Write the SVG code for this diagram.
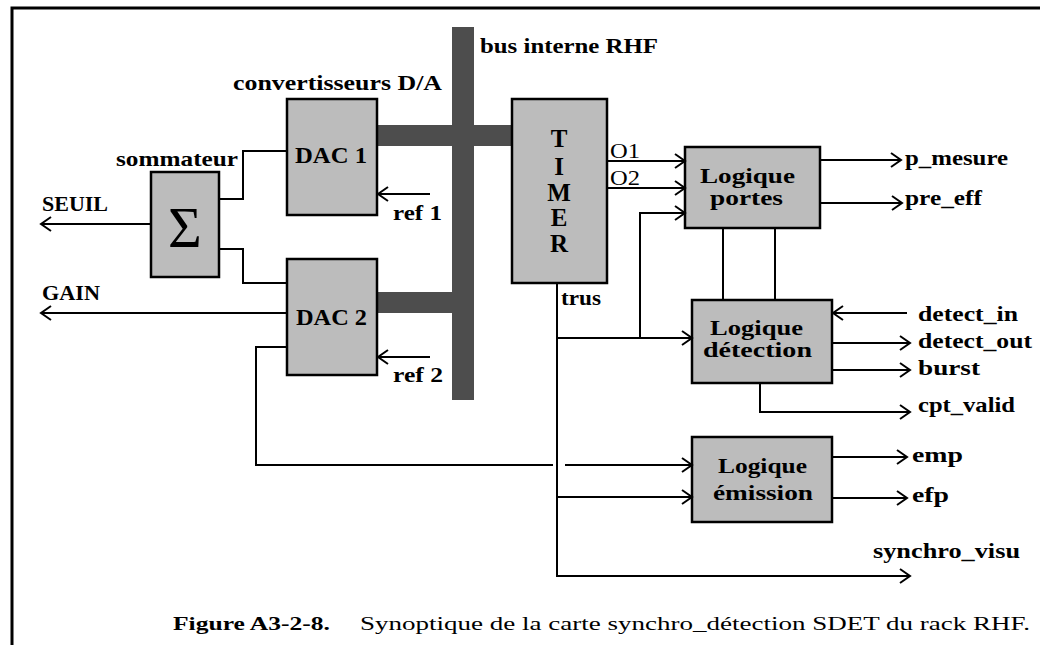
<svg xmlns="http://www.w3.org/2000/svg" width="1040" height="645" viewBox="0 0 1040 645">
<defs>
<marker id="arr" markerUnits="userSpaceOnUse" markerWidth="14" markerHeight="18" refX="11" refY="8" orient="auto">
<path d="M1,1 L11,8 L1,15" fill="none" stroke="#000" stroke-width="2"/>
</marker>
<style>
.box{fill:#bcbcbc;stroke:#000;stroke-width:2.5}
.bus{fill:#4d4d4d}
.ln{fill:none;stroke:#000;stroke-width:2}
.ar{fill:none;stroke:#000;stroke-width:2;marker-end:url(#arr)}
.t{font-family:"Liberation Serif","Times New Roman",serif;font-weight:bold;font-size:21px;fill:#000}
.c{text-anchor:middle}
.cap{font-family:"Liberation Serif","Times New Roman",serif;font-size:19px;fill:#000}
</style>
</defs>
<rect width="1040" height="645" fill="#fff"/>
<g id="frame" class="ln" style="stroke-width:3">
<path d="M12,645 V8 H1040"/>
</g>
<g id="bus">
<rect class="bus" x="452" y="27" width="22" height="373"/>
<rect class="bus" x="377" y="125" width="135" height="21"/>
<rect class="bus" x="377" y="292" width="76" height="21"/>
<text class="t" x="480" y="53" textLength="178" lengthAdjust="spacingAndGlyphs">bus interne RHF</text>
</g>
<g id="sommateur">
<rect class="box" x="151" y="172" width="68" height="105"/>
<text x="185" y="247" text-anchor="middle" style="font-family:'Liberation Serif',serif;font-size:58px">Σ</text>
<text class="t" x="116" y="166" textLength="122" lengthAdjust="spacingAndGlyphs">sommateur</text>
</g>
<g id="dac1">
<rect class="box" x="287" y="99" width="90" height="116"/>
<text class="t" x="295" y="163" textLength="72" lengthAdjust="spacingAndGlyphs" style="font-size:23px">DAC 1</text>
<text class="t" x="233" y="90" textLength="209" lengthAdjust="spacingAndGlyphs">convertisseurs D/A</text>
</g>
<g id="dac2">
<rect class="box" x="287" y="259" width="90" height="116"/>
<text class="t" x="296" y="325" textLength="71" lengthAdjust="spacingAndGlyphs" style="font-size:23px">DAC 2</text>
</g>
<g id="timer">
<rect class="box" x="512" y="99" width="95" height="184"/>
<g class="t c" style="font-size:25px">
<text x="559" y="147">T</text>
<text x="559" y="175">I</text>
<text x="559" y="201">M</text>
<text x="559" y="226">E</text>
<text x="559" y="252">R</text>
</g>
</g>
<g id="portes">
<rect class="box" x="685" y="147" width="135" height="81"/>
<text class="t" x="700" y="183" textLength="95" lengthAdjust="spacingAndGlyphs">Logique</text>
<text class="t" x="710" y="205" textLength="73" lengthAdjust="spacingAndGlyphs">portes</text>
</g>
<g id="detection">
<rect class="box" x="692" y="300" width="140" height="83"/>
<text class="t" x="710" y="335" textLength="93" lengthAdjust="spacingAndGlyphs">Logique</text>
<text class="t" x="703" y="357" textLength="109" lengthAdjust="spacingAndGlyphs">détection</text>
</g>
<g id="emission">
<rect class="box" x="692" y="437" width="140" height="85"/>
<text class="t" x="718" y="473" textLength="89" lengthAdjust="spacingAndGlyphs">Logique</text>
<text class="t" x="713" y="500" textLength="100" lengthAdjust="spacingAndGlyphs">émission</text>
</g>
<g id="connectors">
<path class="ar" d="M151,224 H41"/>
<path class="ar" d="M287,313 H41"/>
<path class="ln" d="M219,199 H243 V151 H287"/>
<path class="ln" d="M219,249 H243 V283 H287"/>
<path class="ar" d="M430,194 H378"/>
<path class="ar" d="M430,357 H378"/>
<path class="ln" d="M287,347 H256 V465 H553"/>
<path class="ar" d="M565,465 H692"/>
<path class="ar" d="M607,161 H685"/>
<path class="ar" d="M607,188 H685"/>
<path class="ar" d="M557,283 V576 H910"/>
<path class="ar" d="M557,338 H692"/>
<path class="ar" d="M640,338 V213 H685"/>
<path class="ln" d="M723,228 V300 M775,228 V300"/>
<path class="ar" d="M820,160 H901"/>
<path class="ar" d="M820,203 H902"/>
<path class="ar" d="M907,313 H833"/>
<path class="ar" d="M832,343 H910"/>
<path class="ar" d="M832,370 H910"/>
<path class="ar" d="M760,383 V412 H910"/>
<path class="ar" d="M557,497 H692"/>
<path class="ar" d="M832,457 H907"/>
<path class="ar" d="M832,498 H907"/>
</g>
<g id="labels">
<text class="t" x="42" y="211" textLength="66" lengthAdjust="spacingAndGlyphs">SEUIL</text>
<text class="t" x="42" y="300" textLength="58" lengthAdjust="spacingAndGlyphs">GAIN</text>
<text class="t" x="393" y="220" textLength="49" lengthAdjust="spacingAndGlyphs">ref 1</text>
<text class="t" x="393" y="382" textLength="50" lengthAdjust="spacingAndGlyphs">ref 2</text>
<text class="t" x="610" y="158" textLength="30" lengthAdjust="spacingAndGlyphs" style="font-weight:normal">O1</text>
<text class="t" x="610" y="185" textLength="30" lengthAdjust="spacingAndGlyphs" style="font-weight:normal">O2</text>
<text class="t" x="561" y="305" textLength="40" lengthAdjust="spacingAndGlyphs">trus</text>
<text class="t" x="905" y="165" textLength="103" lengthAdjust="spacingAndGlyphs">p_mesure</text>
<text class="t" x="905" y="205" textLength="77" lengthAdjust="spacingAndGlyphs">pre_eff</text>
<text class="t" x="918" y="321" textLength="100" lengthAdjust="spacingAndGlyphs">detect_in</text>
<text class="t" x="918" y="348" textLength="114" lengthAdjust="spacingAndGlyphs">detect_out</text>
<text class="t" x="918" y="375" textLength="62" lengthAdjust="spacingAndGlyphs">burst</text>
<text class="t" x="918" y="412" textLength="97" lengthAdjust="spacingAndGlyphs">cpt_valid</text>
<text class="t" x="912" y="462" textLength="51" lengthAdjust="spacingAndGlyphs">emp</text>
<text class="t" x="912" y="502" textLength="37" lengthAdjust="spacingAndGlyphs">efp</text>
<text class="t" x="873" y="558" textLength="147" lengthAdjust="spacingAndGlyphs">synchro_visu</text>
</g>
<g id="caption">
<text class="cap" x="173" y="630" textLength="157" lengthAdjust="spacingAndGlyphs" style="font-weight:bold">Figure A3-2-8.</text>
<text class="cap" x="360" y="630" textLength="670" lengthAdjust="spacingAndGlyphs">Synoptique de la carte synchro_détection  SDET  du rack RHF.</text>
</g>
</svg>
